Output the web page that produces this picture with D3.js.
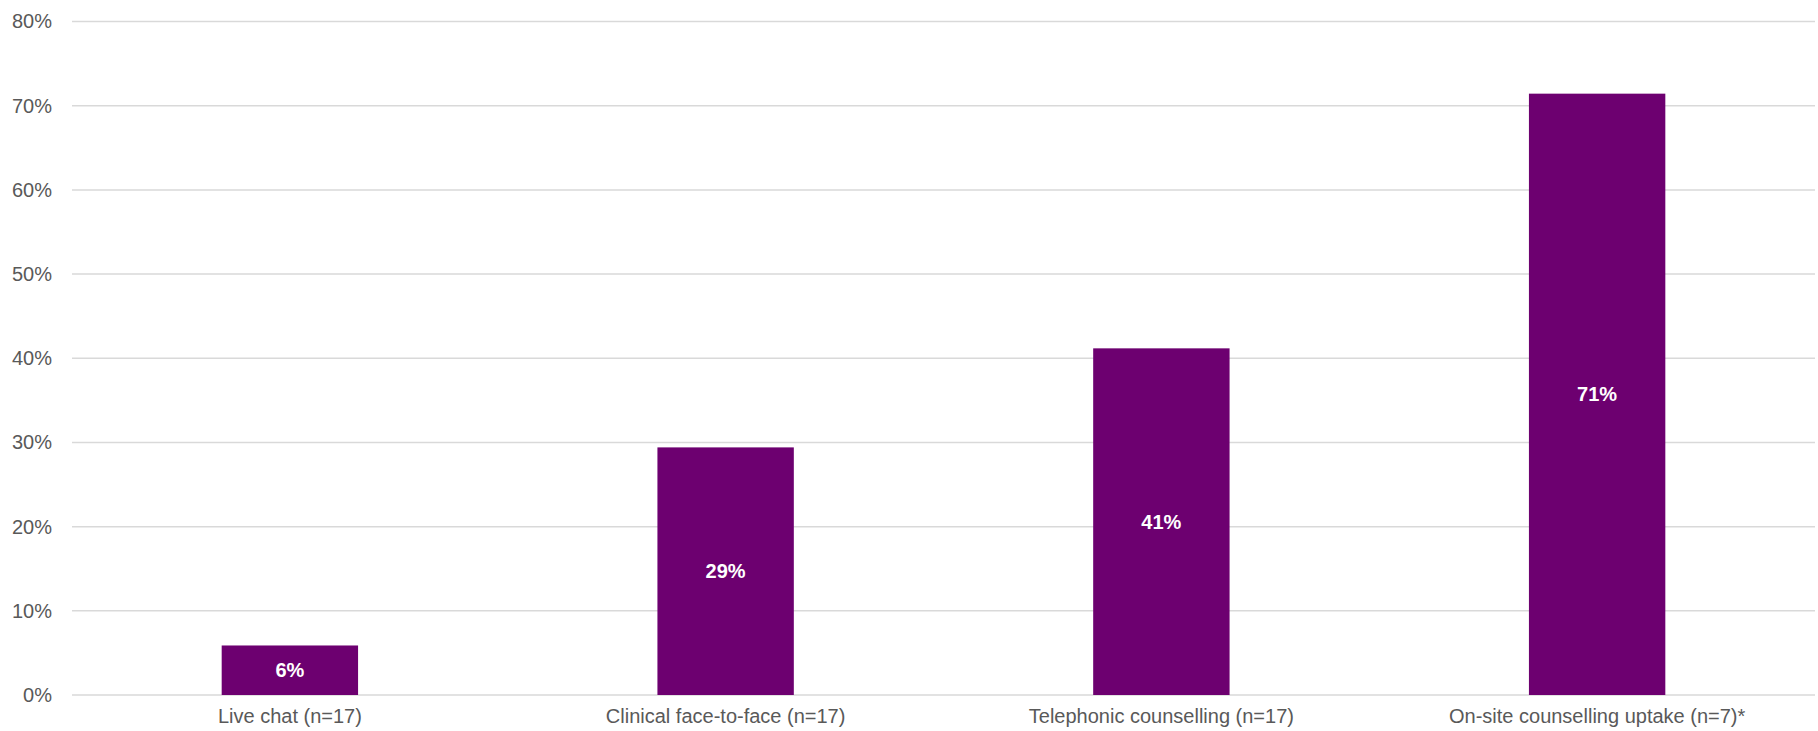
<!DOCTYPE html>
<html>
<head>
<meta charset="utf-8">
<script src="https://cdn.jsdelivr.net/npm/d3@7"></script>
<style>
  html, body { margin: 0; padding: 0; background: #fff; }
  svg { display: block; font-family: "Liberation Sans", Arial, sans-serif; }
</style>
</head>
<body>
<svg id="chart" width="1818" height="731"></svg>
<script>
// Share of respondents using each support channel
const categories = [
  "Live chat (n=17)",
  "Clinical face-to-face (n=17)",
  "Telephonic counselling (n=17)",
  "On-site counselling uptake (n=7)*"
];
const values = [1 / 17, 5 / 17, 7 / 17, 5 / 7];
const yTicks = [0, 0.1, 0.2, 0.3, 0.4, 0.5, 0.6, 0.7, 0.8];

const svg = d3.select("#chart");
const margin = { top: 21.5, right: 3, bottom: 36, left: 72 };
const width = 1818 - margin.left - margin.right;
const height = 731 - margin.top - margin.bottom;

const g = svg.append("g").attr("transform", `translate(${margin.left},${margin.top})`);

const x = d3.scaleBand()
  .domain(categories)
  .range([0, width])
  .paddingInner(0.687)
  .paddingOuter(0.3435);

const y = d3.scaleLinear().domain([0, 0.8]).range([height, 0]);

// Gridlines
g.append("g")
  .selectAll("line")
  .data(yTicks)
  .join("line")
  .attr("x1", 0)
  .attr("x2", width)
  .attr("y1", d => y(d))
  .attr("y2", d => y(d))
  .attr("stroke", "#d9d9d9")
  .attr("stroke-width", 1.5);

// Y axis labels
const yAxis = d3.axisLeft(y).tickValues(yTicks).tickFormat(d3.format(".0%")).tickSize(0).tickPadding(20);
g.append("g")
  .call(yAxis)
  .call(s => s.select(".domain").remove())
  .selectAll("text")
  .attr("fill", "#595959")
  .style("font-size", "20px");

// Bars
g.append("g")
  .selectAll("rect")
  .data(values)
  .join("rect")
  .attr("x", (d, i) => x(categories[i]))
  .attr("width", x.bandwidth())
  .attr("y", d => y(d))
  .attr("height", d => y(0) - y(d))
  .attr("fill", "#6d0070");

// Value labels inside bars
g.append("g")
  .selectAll("text")
  .data(values)
  .join("text")
  .attr("x", (d, i) => x(categories[i]) + x.bandwidth() / 2)
  .attr("y", d => (y(d) + y(0)) / 2)
  .attr("dy", "0.35em")
  .attr("text-anchor", "middle")
  .attr("fill", "#ffffff")
  .style("font-size", "20px")
  .style("font-weight", "bold")
  .text(d => d3.format(".0%")(d));

// Category axis
const xAxis = d3.axisBottom(x).tickSize(0).tickPadding(14);
g.append("g")
  .attr("transform", `translate(0,${height})`)
  .call(xAxis)
  .call(s => s.select(".domain").remove())
  .selectAll("text")
  .attr("fill", "#595959")
  .style("font-size", "20px");
</script>
</body>
</html>
